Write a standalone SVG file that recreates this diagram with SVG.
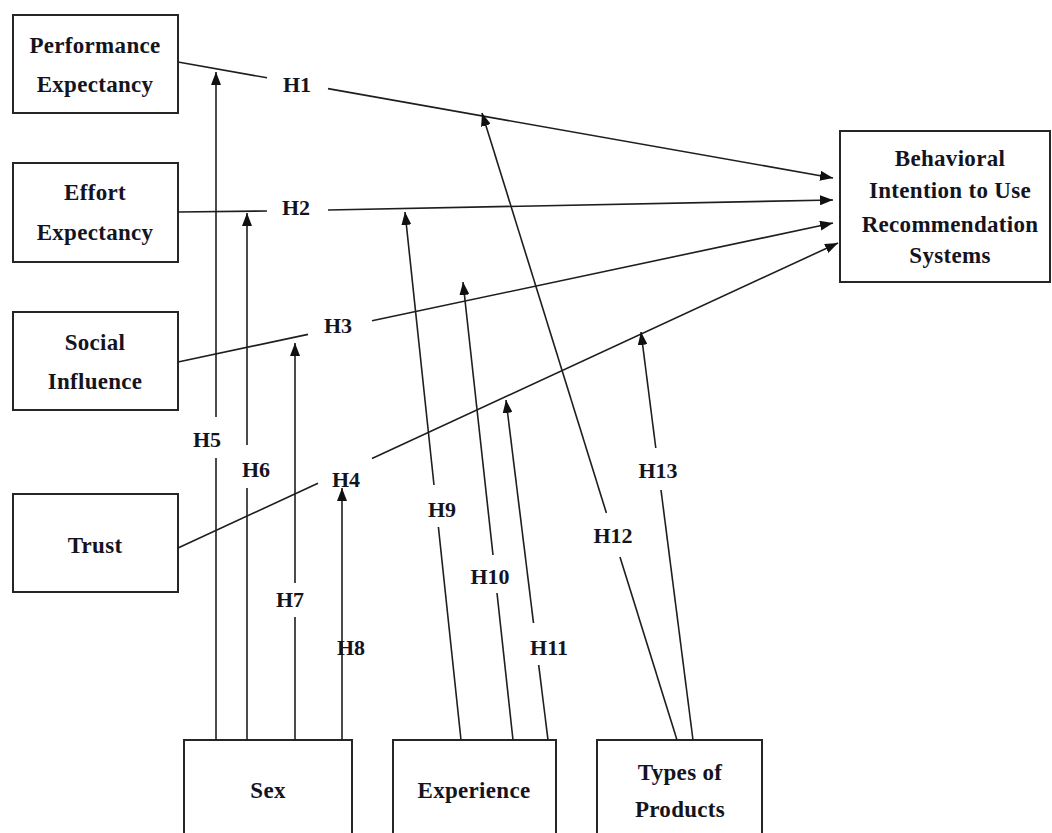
<svg xmlns="http://www.w3.org/2000/svg" width="1052" height="833" viewBox="0 0 1052 833">
  <style>
    .box { fill: #ffffff; stroke: #262626; stroke-width: 2; }
    .txt { font-family: "Liberation Serif", "Times New Roman", serif; font-weight: bold; font-size: 23px; fill: #14141f; text-anchor: middle; letter-spacing: 0.3px; }
    .lbl { font-family: "Liberation Serif", "Times New Roman", serif; font-weight: bold; font-size: 22px; fill: #14141f; text-anchor: middle; }
    .ln { stroke: #1e1e1e; stroke-width: 1.6; fill: none; }
    .arr { marker-end: url(#head); }
  </style>
  <defs>
    <marker id="head" markerUnits="userSpaceOnUse" markerWidth="13" markerHeight="10" refX="13" refY="5" orient="auto">
      <path d="M0,0 L13,5 L0,10 z" fill="#111111"/>
    </marker>
  </defs>
  <rect width="1052" height="833" fill="#ffffff"/>

  <!-- constructs -->
  <g id="performance-expectancy">
    <rect class="box" x="13" y="15" width="165" height="98"/>
    <text class="txt" x="95" y="53">Performance</text>
    <text class="txt" x="95" y="92">Expectancy</text>
  </g>
  <g id="effort-expectancy">
    <rect class="box" x="13" y="163" width="165" height="99"/>
    <text class="txt" x="95" y="200">Effort</text>
    <text class="txt" x="95" y="240">Expectancy</text>
  </g>
  <g id="social-influence">
    <rect class="box" x="13" y="312" width="165" height="98"/>
    <text class="txt" x="95" y="350">Social</text>
    <text class="txt" x="95" y="389">Influence</text>
  </g>
  <g id="trust">
    <rect class="box" x="13" y="494" width="165" height="98"/>
    <text class="txt" x="95" y="553">Trust</text>
  </g>
  <g id="behavioral-intention">
    <rect class="box" x="840" y="131" width="210" height="151"/>
    <text class="txt" x="950" y="166">Behavioral</text>
    <text class="txt" x="950" y="198">Intention to Use</text>
    <text class="txt" x="950" y="232">Recommendation</text>
    <text class="txt" x="950" y="263">Systems</text>
  </g>

  <!-- moderators -->
  <g id="sex">
    <rect class="box" x="184" y="740" width="168" height="100"/>
    <text class="txt" x="268" y="798">Sex</text>
  </g>
  <g id="experience">
    <rect class="box" x="393" y="740" width="163" height="100"/>
    <text class="txt" x="474" y="798">Experience</text>
  </g>
  <g id="types-of-products">
    <rect class="box" x="597" y="740" width="165" height="100"/>
    <text class="txt" x="680" y="780">Types of</text>
    <text class="txt" x="680" y="817">Products</text>
  </g>

  <!-- paths and hypothesis labels -->
  <g id="connectors">
    <!-- H1 -->
    <line class="ln" x1="178" y1="62" x2="267" y2="77.8"/>
    <line class="ln arr" x1="328" y1="88.6" x2="833" y2="178"/>
    <!-- H2 -->
    <line class="ln" x1="178" y1="212" x2="267" y2="211"/>
    <line class="ln arr" x1="328" y1="210" x2="833" y2="200"/>
    <!-- H3 -->
    <line class="ln" x1="178" y1="362" x2="308" y2="334.4"/>
    <line class="ln arr" x1="372" y1="320.8" x2="833" y2="223"/>
    <!-- H4 -->
    <line class="ln" x1="178" y1="548" x2="318" y2="483.3"/>
    <line class="ln arr" x1="372" y1="458.4" x2="838" y2="243"/>

    <!-- H5 - H8 from Sex -->
    <line class="ln" x1="216" y1="740" x2="216" y2="458"/>
    <line class="ln arr" x1="216" y1="417" x2="216" y2="72"/>
    <line class="ln" x1="247" y1="740" x2="247" y2="488"/>
    <line class="ln arr" x1="247" y1="445" x2="247" y2="213"/>
    <line class="ln" x1="295" y1="740" x2="295" y2="617"/>
    <line class="ln arr" x1="295" y1="583" x2="295" y2="343"/>
    <line class="ln arr" x1="342" y1="740" x2="342" y2="488"/>

    <!-- H9 - H11 from Experience -->
    <line class="ln" x1="461" y1="740" x2="438.4" y2="527"/>
    <line class="ln arr" x1="434" y1="485" x2="405" y2="212"/>
    <line class="ln" x1="513" y1="740" x2="497" y2="593"/>
    <line class="ln arr" x1="493" y1="555" x2="463" y2="282"/>
    <line class="ln" x1="548" y1="740" x2="538.7" y2="665"/>
    <line class="ln arr" x1="533.5" y1="623" x2="506" y2="400"/>

    <!-- H12 - H13 from Types of Products -->
    <line class="ln" x1="677" y1="740" x2="620" y2="557"/>
    <line class="ln arr" x1="606.4" y1="513" x2="482" y2="113"/>
    <line class="ln" x1="693" y1="740" x2="661" y2="490"/>
    <line class="ln arr" x1="655.8" y1="448" x2="641" y2="332"/>

    <text class="lbl" x="297" y="92">H1</text>
    <text class="lbl" x="296" y="215">H2</text>
    <text class="lbl" x="338" y="333">H3</text>
    <text class="lbl" x="346" y="487">H4</text>
    <text class="lbl" x="207" y="447">H5</text>
    <text class="lbl" x="256" y="477">H6</text>
    <text class="lbl" x="290" y="607">H7</text>
    <text class="lbl" x="351" y="655">H8</text>
    <text class="lbl" x="442" y="517">H9</text>
    <text class="lbl" x="490" y="584">H10</text>
    <text class="lbl" x="549" y="655">H11</text>
    <text class="lbl" x="613" y="543">H12</text>
    <text class="lbl" x="658" y="478">H13</text>
  </g>
</svg>
